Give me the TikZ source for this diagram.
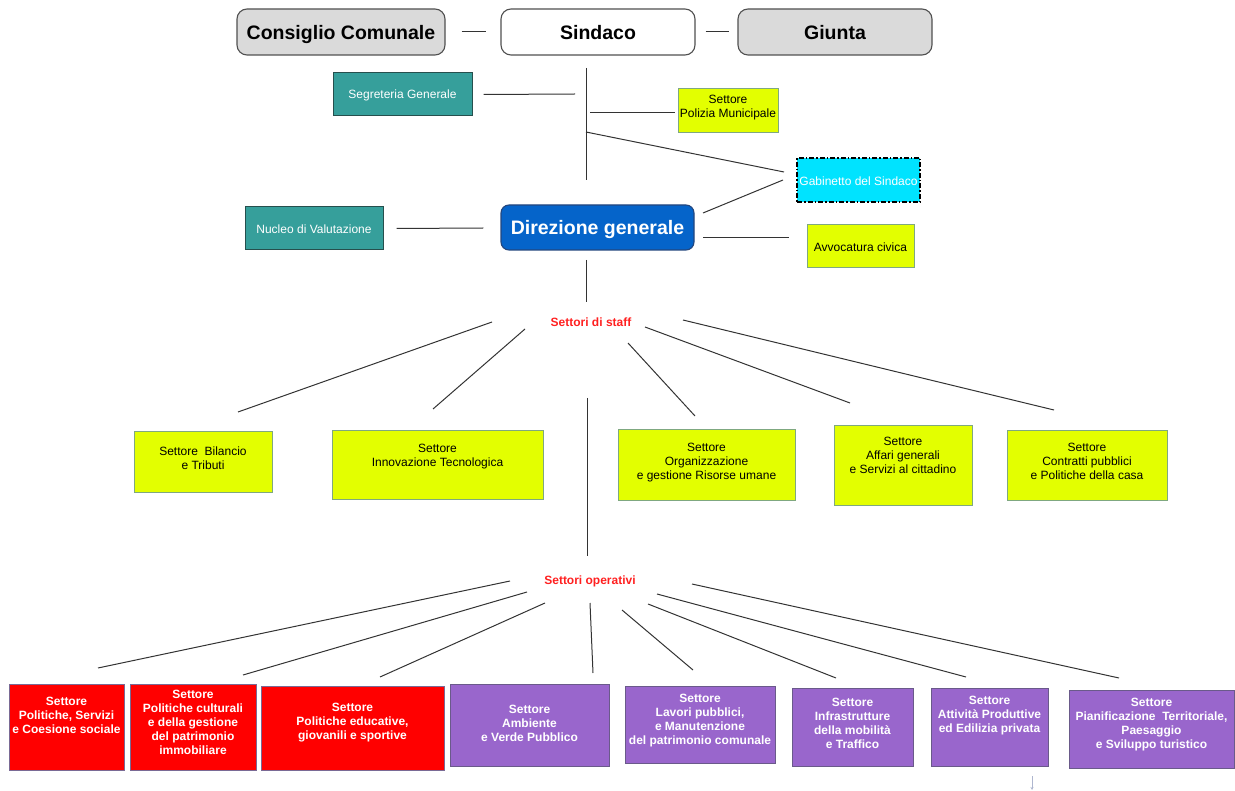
\documentclass[tikz,border=0pt]{standalone}
\usepackage{fontspec}
\setmainfont{Liberation Sans}
\usetikzlibrary{arrows.meta,calc}
\definecolor{lnc}{HTML}{333333}
\definecolor{graybox}{HTML}{DADADA}
\definecolor{grayedge}{HTML}{505050}
\definecolor{dirblue}{HTML}{0564CA}
\definecolor{diredge}{HTML}{23467E}
\definecolor{tealf}{HTML}{369F9B}
\definecolor{tealedge}{HTML}{264F4D}
\definecolor{yelf}{HTML}{E3FF00}
\definecolor{yeledge}{HTML}{7FA880}
\definecolor{cyanf}{HTML}{00E3FF}
\definecolor{redf}{HTML}{FF0000}
\definecolor{rededge}{HTML}{7A6A95}
\definecolor{purf}{HTML}{9966CC}
\definecolor{puredge}{HTML}{6A5A8A}
\definecolor{labred}{HTML}{FF2020}
\definecolor{arrowc}{HTML}{AEB6CF}
\newcommand\bx[4]{\parbox[c][#2pt][c]{#1pt}{\centering #4\par\vspace{#3pt}}}
\tikzset{
  base/.style={rectangle, inner sep=0pt, align=center},
  topbox/.style={base, rounded corners=10pt, line width=1.1pt, draw=grayedge, font=\fontsize{19.5}{22}\selectfont\bfseries},
  graytop/.style={topbox, fill=graybox},
  whitetop/.style={topbox, fill=white},
  dirbox/.style={base, rounded corners=8pt, line width=1.1pt, draw=diredge, fill=dirblue, text=white, font=\fontsize{19.5}{22}\selectfont\bfseries},
  tealbox/.style={base, draw=tealedge, line width=1pt, fill=tealf, text=white, font=\fontsize{12}{14}\selectfont},
  yelbox/.style={base, draw=yeledge, line width=1pt, fill=yelf, text=black, font=\fontsize{12}{14}\selectfont},
  cyanbox/.style={base, draw=black, line width=1.6pt, dash pattern=on 5pt off 2pt on 1.5pt off 2pt, fill=cyanf, text=white, font=\fontsize{12}{14}\selectfont},
  redbox/.style={base, draw=rededge, line width=1pt, fill=redf, text=white, font=\fontsize{12}{14}\selectfont\bfseries},
  purbox/.style={base, draw=puredge, line width=1pt, fill=purf, text=white, font=\fontsize{12}{14}\selectfont\bfseries},
  grouplab/.style={inner sep=0pt, text=labred, font=\fontsize{12}{14}\selectfont\bfseries},
  conn/.style={draw=lnc, line width=1pt},
}
\begin{document}
\begin{tikzpicture}[x=1pt,y=-1pt]
\useasboundingbox (0,0) rectangle (1235,791);
% top row
\node[graytop]  (cc)   at (341,32)   {\bx{208}{46}{-5}{Consiglio Comunale}};
\node[whitetop] (sind) at (598,32)   {\bx{194}{46}{-2}{Sindaco}};
\node[graytop]  (giu)  at (835,32)   {\bx{194}{46}{-2}{Giunta}};
% middle
\node[tealbox] (segr) at (402.5,94.5) {\bx{139}{43}{-2}{Segreteria Generale}};
\node[yelbox]  (pol)  at (728,111)    {\bx{100}{44}{6}{Settore\\Polizia Municipale}};
\node[cyanbox] (gab)  at (858.5,180)  {\bx{123}{44}{-2}{Gabinetto del Sindaco}};
\node[dirbox]  (dir)  at (597.5,227.5){\bx{193}{45}{-5}{Direzione generale}};
\node[tealbox] (nuc)  at (314,228.5)  {\bx{138}{43}{-2}{Nucleo di Valutazione}};
\node[yelbox]  (avv)  at (860.5,246.5){\bx{107}{43}{-2}{Avvocatura civica}};
% group labels
\node[grouplab] (staff) at (591,322) {Settori di staff};
\node[grouplab] (oper)  at (590,581) {Settori operativi};
% staff boxes
\node[yelbox] (bil) at (203,462.5)  {\bx{138}{61}{9}{Settore\ \ Bilancio\\e Tributi}};
\node[yelbox] (inn) at (437.5,465.5){\bx{211}{69}{17}{Settore\\Innovazione Tecnologica}};
\node[yelbox] (org) at (706.5,465.5){\bx{177}{71}{5}{Settore\\Organizzazione\\e gestione Risorse umane}};
\node[yelbox] (aff) at (903,466)    {\bx{138}{80}{22}{Settore\\Affari generali\\e Servizi al cittadino}};
\node[yelbox] (con) at (1087,466)   {\bx{160}{70}{10}{Settore\\Contratti pubblici\\e Politiche della casa}};
% operative boxes
\node[redbox] (r1) at (66.5,727)  {\bx{115}{86}{24}{Settore\\Politiche, Servizi\\e Coesione sociale}};
\node[redbox] (r2) at (193,727)   {\bx{126}{86}{10}{Settore\\Politiche culturali\\e della gestione\\del patrimonio\\immobiliare}};
\node[redbox] (r3) at (352.5,728) {\bx{183}{84}{10}{Settore\\Politiche educative,\\giovanili e sportive}};
\node[purbox] (p1) at (529.5,725) {\bx{159}{82}{4}{Settore\\Ambiente\\e Verde Pubblico}};
\node[purbox] (p2) at (700,724.5) {\bx{150}{77}{7}{Settore\\Lavori pubblici,\\e Manutenzione\\del patrimonio comunale}};
\node[purbox] (p3) at (852.5,727) {\bx{121}{78}{7}{Settore\\Infrastrutture\\della mobilità\\e Traffico}};
\node[purbox] (p4) at (989.5,727) {\bx{117}{78}{22}{Settore\\Attività Produttive\\ed Edilizia privata}};
\node[purbox] (p5) at (1151.5,729){\bx{165}{78}{9}{Settore\\Pianificazione\ \ Territoriale,\\Paesaggio\\e Sviluppo turistico}};
% connectors (free-standing segments, as in the reference)
\draw[conn] ($(cc.east)+(16,0)$) coordinate (a1) -- ($(sind.west)+(-14,0)$) coordinate (a2);
\draw[conn] ($(sind.east)+(10,0)$) coordinate (b1) -- ($(giu.west)+(-8,0)$) coordinate (b2);
\coordinate (vt) at (586,68);
\coordinate (vb) at (586,180);
\draw[conn] (vt) -- (vb);
\coordinate (sg) at (575,94);
\draw[conn] ($(segr.east)+(11,0)$) -- (sg);
\coordinate (pl) at (590,113);
\draw[conn] (pl) -- ($(pol.west)+(-3,2)$);
\coordinate (gb1) at (586,132);
\draw[conn] (gb1) -- (784,172) coordinate (gb2);
\draw[conn] (703,213) coordinate (gd1) -- (783,180) coordinate (gd2);
\draw[conn] ($(nuc.east)+(13,0)$) -- ($(dir.west)+(-17,0.5)$);
\draw[conn] (703,238) coordinate (av1) -- ($(avv.west)+(-18,-8.5)$);
\draw[conn] (586,260) coordinate (ds1) -- (586,302) coordinate (ds2);
% staff lines
\draw[conn] (492,322) coordinate (s1a) -- (238,412) coordinate (s1b);
\draw[conn] (525,329) coordinate (s2a) -- (433,409) coordinate (s2b);
\draw[conn] (628,343) coordinate (s3a) -- (695,416) coordinate (s3b);
\draw[conn] (645,327) coordinate (s4a) -- (850,403) coordinate (s4b);
\draw[conn] (683,320) coordinate (s5a) -- (1054,410) coordinate (s5b);
\draw[conn] (587,398) coordinate (so1) -- (587,556) coordinate (so2);
% operative lines
\draw[conn] (510,581) coordinate (o1a) -- (98,668) coordinate (o1b);
\draw[conn] (527,592) coordinate (o2a) -- (243,675) coordinate (o2b);
\draw[conn] (545,603) coordinate (o3a) -- (380,677) coordinate (o3b);
\draw[conn] (590,603) coordinate (o4a) -- (593,673) coordinate (o4b);
\draw[conn] (622,610) coordinate (o5a) -- (693,670) coordinate (o5b);
\draw[conn] (648,604) coordinate (o6a) -- (836,678) coordinate (o6b);
\draw[conn] (657,594) coordinate (o7a) -- (966,677) coordinate (o7b);
\draw[conn] (692,584) coordinate (o8a) -- (1119,678) coordinate (o8b);
% small arrow
\draw[arrowc, line width=0.8pt, -{Stealth[length=3pt,width=3pt]}] (1032,776) coordinate (ar1) -- (1032,790) coordinate (ar2);
\end{tikzpicture}
\end{document}
